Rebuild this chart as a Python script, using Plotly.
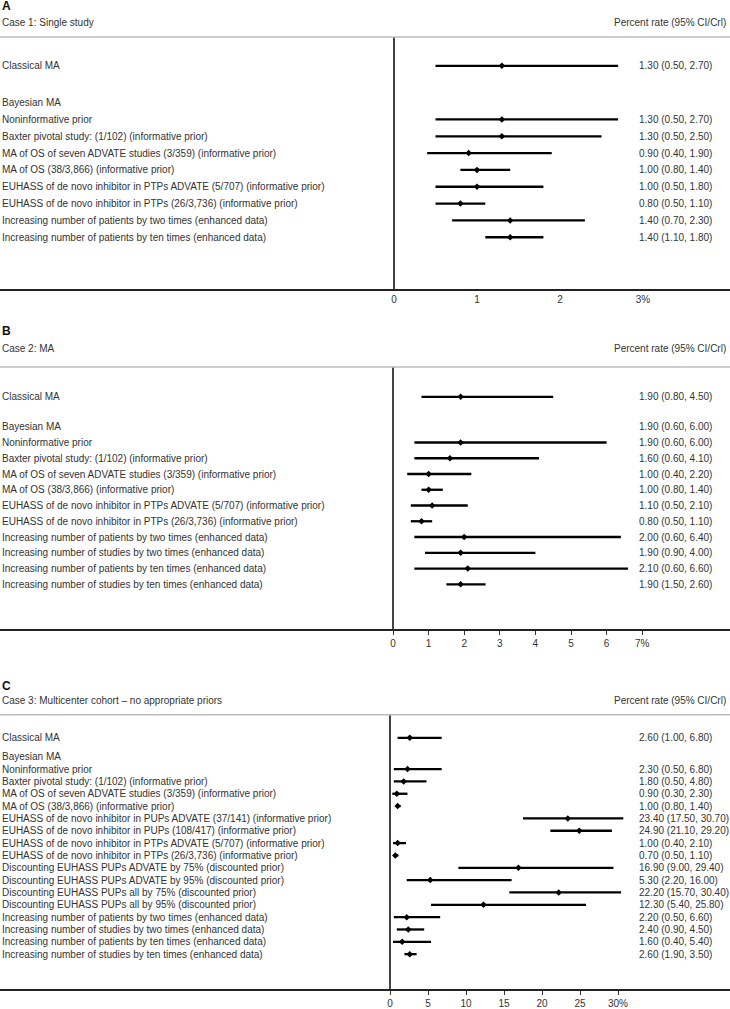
import plotly.graph_objects as go

# ---------------- DATA ----------------
a_labels = ["Classical MA", "Bayesian MA", "Noninformative prior",
            "Baxter pivotal study: (1/102) (informative prior)",
            "MA of OS of seven ADVATE studies (3/359) (informative prior)",
            "MA of OS (38/3,866) (informative prior)",
            "EUHASS of de novo inhibitor in PTPs ADVATE (5/707) (informative prior)",
            "EUHASS of de novo inhibitor in PTPs (26/3,736) (informative prior)",
            "Increasing number of patients by two times (enhanced data)",
            "Increasing number of patients by ten times (enhanced data)"]
a_est = [1.30, None, 1.30, 1.30, 0.90, 1.00, 1.00, 0.80, 1.40, 1.40]
a_lo = [0.50, None, 0.50, 0.50, 0.40, 0.80, 0.50, 0.50, 0.70, 1.10]
a_hi = [2.70, None, 2.70, 2.50, 1.90, 1.40, 1.80, 1.10, 2.30, 1.80]
a_ticks = [0, 1, 2, 3]
a_ticktext = ["0", "1", "2", "3%"]

b_labels = ["Classical MA", "Bayesian MA", "Noninformative prior",
            "Baxter pivotal study: (1/102) (informative prior)",
            "MA of OS of seven ADVATE studies (3/359) (informative prior)",
            "MA of OS (38/3,866) (informative prior)",
            "EUHASS of de novo inhibitor in PTPs ADVATE (5/707) (informative prior)",
            "EUHASS of de novo inhibitor in PTPs (26/3,736) (informative prior)",
            "Increasing number of patients by two times (enhanced data)",
            "Increasing number of studies by two times (enhanced data)",
            "Increasing number of patients by ten times (enhanced data)",
            "Increasing number of studies by ten times (enhanced data)"]
b_est = [1.90, 1.90, 1.90, 1.60, 1.00, 1.00, 1.10, 0.80, 2.00, 1.90, 2.10, 1.90]
b_lo = [0.80, 0.60, 0.60, 0.60, 0.40, 0.80, 0.50, 0.50, 0.60, 0.90, 0.60, 1.50]
b_hi = [4.50, 6.00, 6.00, 4.10, 2.20, 1.40, 2.10, 1.10, 6.40, 4.00, 6.60, 2.60]
b_draw = [True, False, True, True, True, True, True, True, True, True, True, True]
b_ticks = [0, 1, 2, 3, 4, 5, 6, 7]
b_ticktext = ["0", "1", "2", "3", "4", "5", "6", "7%"]

c_labels = ["Classical MA", "Bayesian MA", "Noninformative prior",
            "Baxter pivotal study: (1/102) (informative prior)",
            "MA of OS of seven ADVATE studies (3/359) (informative prior)",
            "MA of OS (38/3,866) (informative prior)",
            "EUHASS of de novo inhibitor in PUPs ADVATE (37/141) (informative prior)",
            "EUHASS of de novo inhibitor in PUPs (108/417) (informative prior)",
            "EUHASS of de novo inhibitor in PTPs ADVATE (5/707) (informative prior)",
            "EUHASS of de novo inhibitor in PTPs (26/3,736) (informative prior)",
            "Discounting EUHASS PUPs ADVATE by 75% (discounted prior)",
            "Discounting EUHASS PUPs ADVATE by 95% (discounted prior)",
            "Discounting EUHASS PUPs all by 75% (discounted prior)",
            "Discounting EUHASS PUPs all by 95% (discounted prior)",
            "Increasing number of patients by two times (enhanced data)",
            "Increasing number of studies by two times (enhanced data)",
            "Increasing number of patients by ten times (enhanced data)",
            "Increasing number of studies by ten times (enhanced data)"]
c_est = [2.60, None, 2.30, 1.80, 0.90, 1.00, 23.40, 24.90, 1.00, 0.70,
         16.90, 5.30, 22.20, 12.30, 2.20, 2.40, 1.60, 2.60]
c_lo = [1.00, None, 0.50, 0.50, 0.30, 0.80, 17.50, 21.10, 0.40, 0.50,
        9.00, 2.20, 15.70, 5.40, 0.50, 0.90, 0.40, 1.90]
c_hi = [6.80, None, 6.80, 4.80, 2.30, 1.40, 30.70, 29.20, 2.10, 1.10,
        29.40, 16.00, 30.40, 25.80, 6.60, 4.50, 5.40, 3.50]
c_ticks = [0, 5, 10, 15, 20, 25, 30]
c_ticktext = ["0", "5", "10", "15", "20", "25", "30%"]

panel_letters = ["A", "B", "C"]
panel_titles = ["Case 1: Single study", "Case 2: MA",
                "Case 3: Multicenter cohort \u2013 no appropriate priors"]
header = "Percent rate (95% CI/Crl)"

# ---------------- LAYOUT PARAMS ----------------
W, H = 730, 1009
FONT = "Liberation Sans, Arial, Helvetica, sans-serif"
TXT = "#333333"

panels = [
    dict(labels=a_labels, est=a_est, lo=a_lo, hi=a_hi, draw=None, ticks=a_ticks, ticktext=a_ticktext,
         letter_y=6, title_y=23, top=37, bottom=290, zero=394, ppu=83.0, first=66, step=16.875, gap=1.19, ticklen=0),
    dict(labels=b_labels, est=b_est, lo=b_lo, hi=b_hi, draw=b_draw, ticks=b_ticks, ticktext=b_ticktext,
         letter_y=332, title_y=350, top=368, bottom=631, zero=393, ppu=35.6, first=398, step=15.8, gap=0.9, ticklen=4),
    dict(labels=c_labels, est=c_est, lo=c_lo, hi=c_hi, draw=None, ticks=c_ticks, ticktext=c_ticktext,
         letter_y=688, title_y=703, top=717, bottom=992, zero=390, ppu=7.6, first=740, step=12.375, gap=0.535, ticklen=4),
]

fig = go.Figure()
annotations = []
shapes = []

def py(p):
    return 1 - p / H

for k, P in enumerate(panels):
    ax = "" if k == 0 else str(k + 1)
    xname, yname = "x" + ax, "y" + ax
    n = len(P["labels"])
    rows = [0 if i == 0 else i + P["gap"] for i in range(n)]

    xs, ys, mx, my = [], [], [], []
    for i in range(n):
        if P["est"][i] is None:
            continue
        if P["draw"] is not None and not P["draw"][i]:
            continue
        xs += [P["lo"][i], P["hi"][i], None]
        ys += [rows[i], rows[i], None]
        mx.append(P["est"][i])
        my.append(rows[i])
    fig.add_trace(go.Scatter(x=xs, y=ys, mode="lines", line=dict(color="black", width=2.3),
                             xaxis=xname, yaxis=yname, showlegend=False, hoverinfo="skip"))
    fig.add_trace(go.Scatter(x=mx, y=my, mode="markers",
                             marker=dict(symbol="diamond", size=5, color="black"),
                             xaxis=xname, yaxis=yname, showlegend=False))

    x0 = -P["zero"] / P["ppu"]
    x1 = (W - P["zero"]) / P["ppu"]
    r_top = (P["top"] - P["first"]) / P["step"]
    r_bot = (P["bottom"] - P["first"]) / P["step"]
    fig.layout["xaxis" + ax] = dict(
        domain=[0, 1], anchor=yname, range=[x0, x1], showgrid=False,
        zeroline=True, zerolinecolor="#444444", zerolinewidth=1.5,
        showline=True, linecolor="#222222", linewidth=1.5,
        tickmode="array", tickvals=P["ticks"], ticktext=P["ticktext"],
        ticks="outside" if P["ticklen"] else "", ticklen=P["ticklen"], tickcolor="#333333",
        tickfont=dict(family=FONT, size=10, color=TXT), fixedrange=True)
    fig.layout["yaxis" + ax] = dict(
        domain=[py(P["bottom"]), py(P["top"])], anchor=xname, range=[r_bot, r_top],
        visible=False, fixedrange=True)

    annotations.append(dict(text="<b>" + panel_letters[k] + "</b>", xref="paper", yref="paper",
                            x=0.0, y=py(P["letter_y"]), xanchor="left", yanchor="middle",
                            showarrow=False, font=dict(family=FONT, size=12, color="#111111")))
    annotations.append(dict(text=panel_titles[k], xref="paper", yref="paper",
                            x=0.0, y=py(P["title_y"]), xanchor="left", yanchor="middle",
                            showarrow=False, font=dict(family=FONT, size=10, color=TXT)))
    annotations.append(dict(text=header, xref="paper", yref="paper",
                            x=728 / W, y=py(P["title_y"]), xanchor="right", yanchor="middle",
                            showarrow=False, font=dict(family=FONT, size=10, color=TXT)))
    shapes.append(dict(type="line", xref="paper", yref="paper", x0=0, x1=1,
                       y0=py(P["top"]), y1=py(P["top"]), line=dict(color="#bbbbbb", width=1.5)))

    for i in range(n):
        annotations.append(dict(text=P["labels"][i], xref="paper", yref=yname, x=0.0, y=rows[i],
                                xanchor="left", yanchor="middle", showarrow=False,
                                font=dict(family=FONT, size=10, color=TXT)))
        if P["est"][i] is not None:
            annotations.append(dict(text="{:.2f} ({:.2f}, {:.2f})".format(P["est"][i], P["lo"][i], P["hi"][i]),
                                    xref="paper", yref=yname, x=637 / W, y=rows[i],
                                    xanchor="left", yanchor="middle", showarrow=False,
                                    font=dict(family=FONT, size=10, color=TXT)))

fig.update_layout(width=W, height=H, margin=dict(l=0, r=0, t=0, b=0),
                  paper_bgcolor="white", plot_bgcolor="white",
                  annotations=annotations, shapes=shapes, showlegend=False,
                  font=dict(family=FONT, size=10, color=TXT))

fig.write_html("out.html", config={"displayModeBar": False},
               post_script="document.body.style.margin='0px';document.body.style.padding='0px';"
                           "document.body.style.overflow='hidden';")
